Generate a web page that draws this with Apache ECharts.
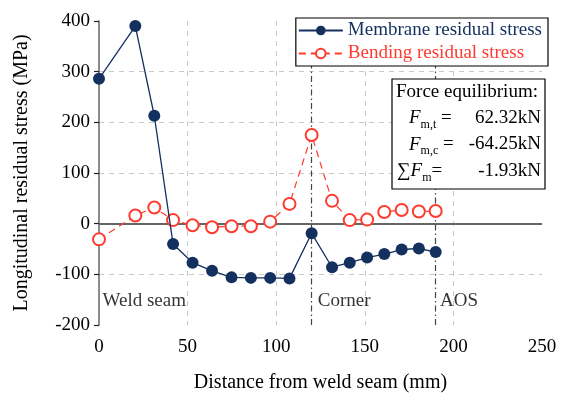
<!DOCTYPE html>
<html>
<head>
<meta charset="utf-8">
<script src="https://cdn.jsdelivr.net/npm/echarts@6/dist/echarts.min.js"></script>
<style>
  html, body { margin: 0; padding: 0; background: #fff; }
  #chart { width: 564px; height: 400px; }
</style>
</head>
<body>
<div id="chart"></div>
<script>
// distance from weld seam (mm)
const distance = [0, 20.5, 31.2, 41.8, 52.8, 63.8, 74.8, 85.7, 96.6, 107.5, 120, 131.5, 141.5, 151.3, 161, 170.8, 180.5, 190]
// residual stress (MPa)
const membrane = [286, 390, 213, -40, -77, -93, -106, -107, -107, -108, -19, -86, -77, -67, -60, -51, -49, -56]
const bending = [-31, 16, 32, 7, -3, -7, -5, -5, 4, 39, 175, 45, 7, 8, 23, 27, 24, 25]
// section markers
const markerX = [120, 190]
const noteX = [2, 123.5, 192.5]
const noteY = [-152, -152, -152]
const noteText = ['Weld seam', 'Corner', 'AOS']
// force equilibrium box
const forceLabels = [['m,t', ' ='], ['m,c', ' ='], ['m', '=']]
const forceValues = ['62.32kN', '-64.25kN', '-1.93kN']

const NAVY = '#14305e'
const RED = '#ff3b30'
const FONT = '"Liberation Serif", "DejaVu Serif", serif'

const chart = echarts.init(document.getElementById('chart'))

// 受力平衡文本框
const boxGraphics = [
  {
    type: 'rect',
    z: 100,
    shape: { x: 392, y: 79, width: 153, height: 110 },
    style: { fill: '#fff', stroke: '#000', lineWidth: 1.2 }
  },
  {
    type: 'text',
    z: 101,
    x: 396,
    y: 92,
    style: { text: 'Force equilibrium:', font: '19px ' + FONT, fill: '#000', verticalAlign: 'middle' }
  }
]
forceLabels.forEach((item, i) => {
  const y = 118 + i * 26.5
  const prefix = i === 2 ? '{n|∑}{i|F}' : '{i|F}'
  boxGraphics.push({
    type: 'text',
    z: 101,
    x: i === 2 ? 397 : 409,
    y: y,
    style: {
      text: prefix + '{s|' + item[0] + '}{n|' + item[1] + '}',
      verticalAlign: 'middle',
      fill: '#000',
      rich: {
        n: { font: '19px ' + FONT, fill: '#000' },
        i: { font: 'italic 19px ' + FONT, fill: '#000' },
        s: { font: '12px ' + FONT, fill: '#000', padding: [13, 0, 0, 0] }
      }
    }
  })
  boxGraphics.push({
    type: 'text',
    z: 101,
    x: 541,
    y: y,
    style: { text: forceValues[i], font: '19px ' + FONT, fill: '#000', align: 'right', verticalAlign: 'middle' }
  })
})

const option = {
  animation: false,
  backgroundColor: '#fff',
  textStyle: { fontFamily: FONT },
  grid: { left: 99, right: 22, top: 21, bottom: 75 },
  legend: {
    orient: 'vertical',
    right: 16,
    top: 18,
    padding: [3, 6, 3, 2],
    itemGap: 4,
    itemWidth: 44,
    itemHeight: 12,
    borderColor: '#000',
    borderWidth: 1.2,
    borderRadius: 0,
    backgroundColor: '#fff',
    textStyle: { fontFamily: FONT, fontSize: 19 },
    data: [
      { name: 'Membrane residual stress', textStyle: { color: NAVY } },
      { name: 'Bending residual stress', textStyle: { color: RED } }
    ]
  },
  xAxis: {
    type: 'value',
    min: 0,
    max: 250,
    interval: 50,
    name: 'Distance from weld seam (mm)',
    nameLocation: 'middle',
    nameGap: 48,
    nameTextStyle: { fontFamily: FONT, fontSize: 20, color: '#000' },
    axisLine: { show: false, onZero: false },
    axisTick: { show: false },
    axisLabel: { fontFamily: FONT, fontSize: 19, color: '#000', margin: 13 },
    splitLine: {
      show: true,
      showMinLine: false,
      showMaxLine: false,
      lineStyle: { color: '#c8c8c8', type: [5, 5], width: 1 }
    }
  },
  yAxis: {
    type: 'value',
    min: -200,
    max: 400,
    interval: 100,
    name: 'Longitudinal residual stress (MPa)',
    nameLocation: 'middle',
    nameGap: 67,
    nameTextStyle: { fontFamily: FONT, fontSize: 20, color: '#000' },
    axisLine: { show: true, lineStyle: { color: '#666', width: 1.5 } },
    axisTick: { show: true, inside: false, length: 5, lineStyle: { color: '#222', width: 1.2 } },
    axisLabel: { fontFamily: FONT, fontSize: 19, color: '#000', margin: 9 },
    splitLine: {
      show: true,
      showMinLine: false,
      showMaxLine: false,
      lineStyle: { color: '#c8c8c8', type: [5, 5], width: 1 }
    }
  },
  series: [
    {
      name: 'Membrane residual stress',
      type: 'line',
      z: 4,
      data: distance.map((d, i) => [d, membrane[i]]),
      symbol: 'circle',
      symbolSize: 12,
      lineStyle: { color: NAVY, width: 1.3 },
      itemStyle: { color: NAVY },
      markLine: {
        silent: true,
        symbol: 'none',
        label: { show: false },
        z: 1,
        data: [
          { yAxis: 0, lineStyle: { color: '#666', width: 2, type: 'solid' } }
        ].concat(markerX.map(x => ({
          xAxis: x,
          lineStyle: { color: '#444', width: 1.2, type: [6, 3, 1.5, 3] }
        })))
      }
    },
    {
      name: 'Bending residual stress',
      type: 'line',
      z: 3,
      data: distance.map((d, i) => [d, bending[i]]),
      symbol: 'emptyCircle',
      symbolSize: 12,
      lineStyle: { color: RED, width: 1.2, type: [7, 5] },
      itemStyle: { color: RED, borderWidth: 1.2 }
    },
    {
      name: 'notes',
      type: 'scatter',
      silent: true,
      symbolSize: 0,
      data: noteX.map((x, i) => ({ value: [x, noteY[i]], name: noteText[i] })),
      label: {
        show: true,
        position: 'right',
        distance: 0,
        formatter: p => p.name,
        fontFamily: FONT,
        fontSize: 19,
        color: '#000'
      }
    }
  ],
  graphic: boxGraphics
}

chart.setOption(option)
</script>
</body>
</html>
